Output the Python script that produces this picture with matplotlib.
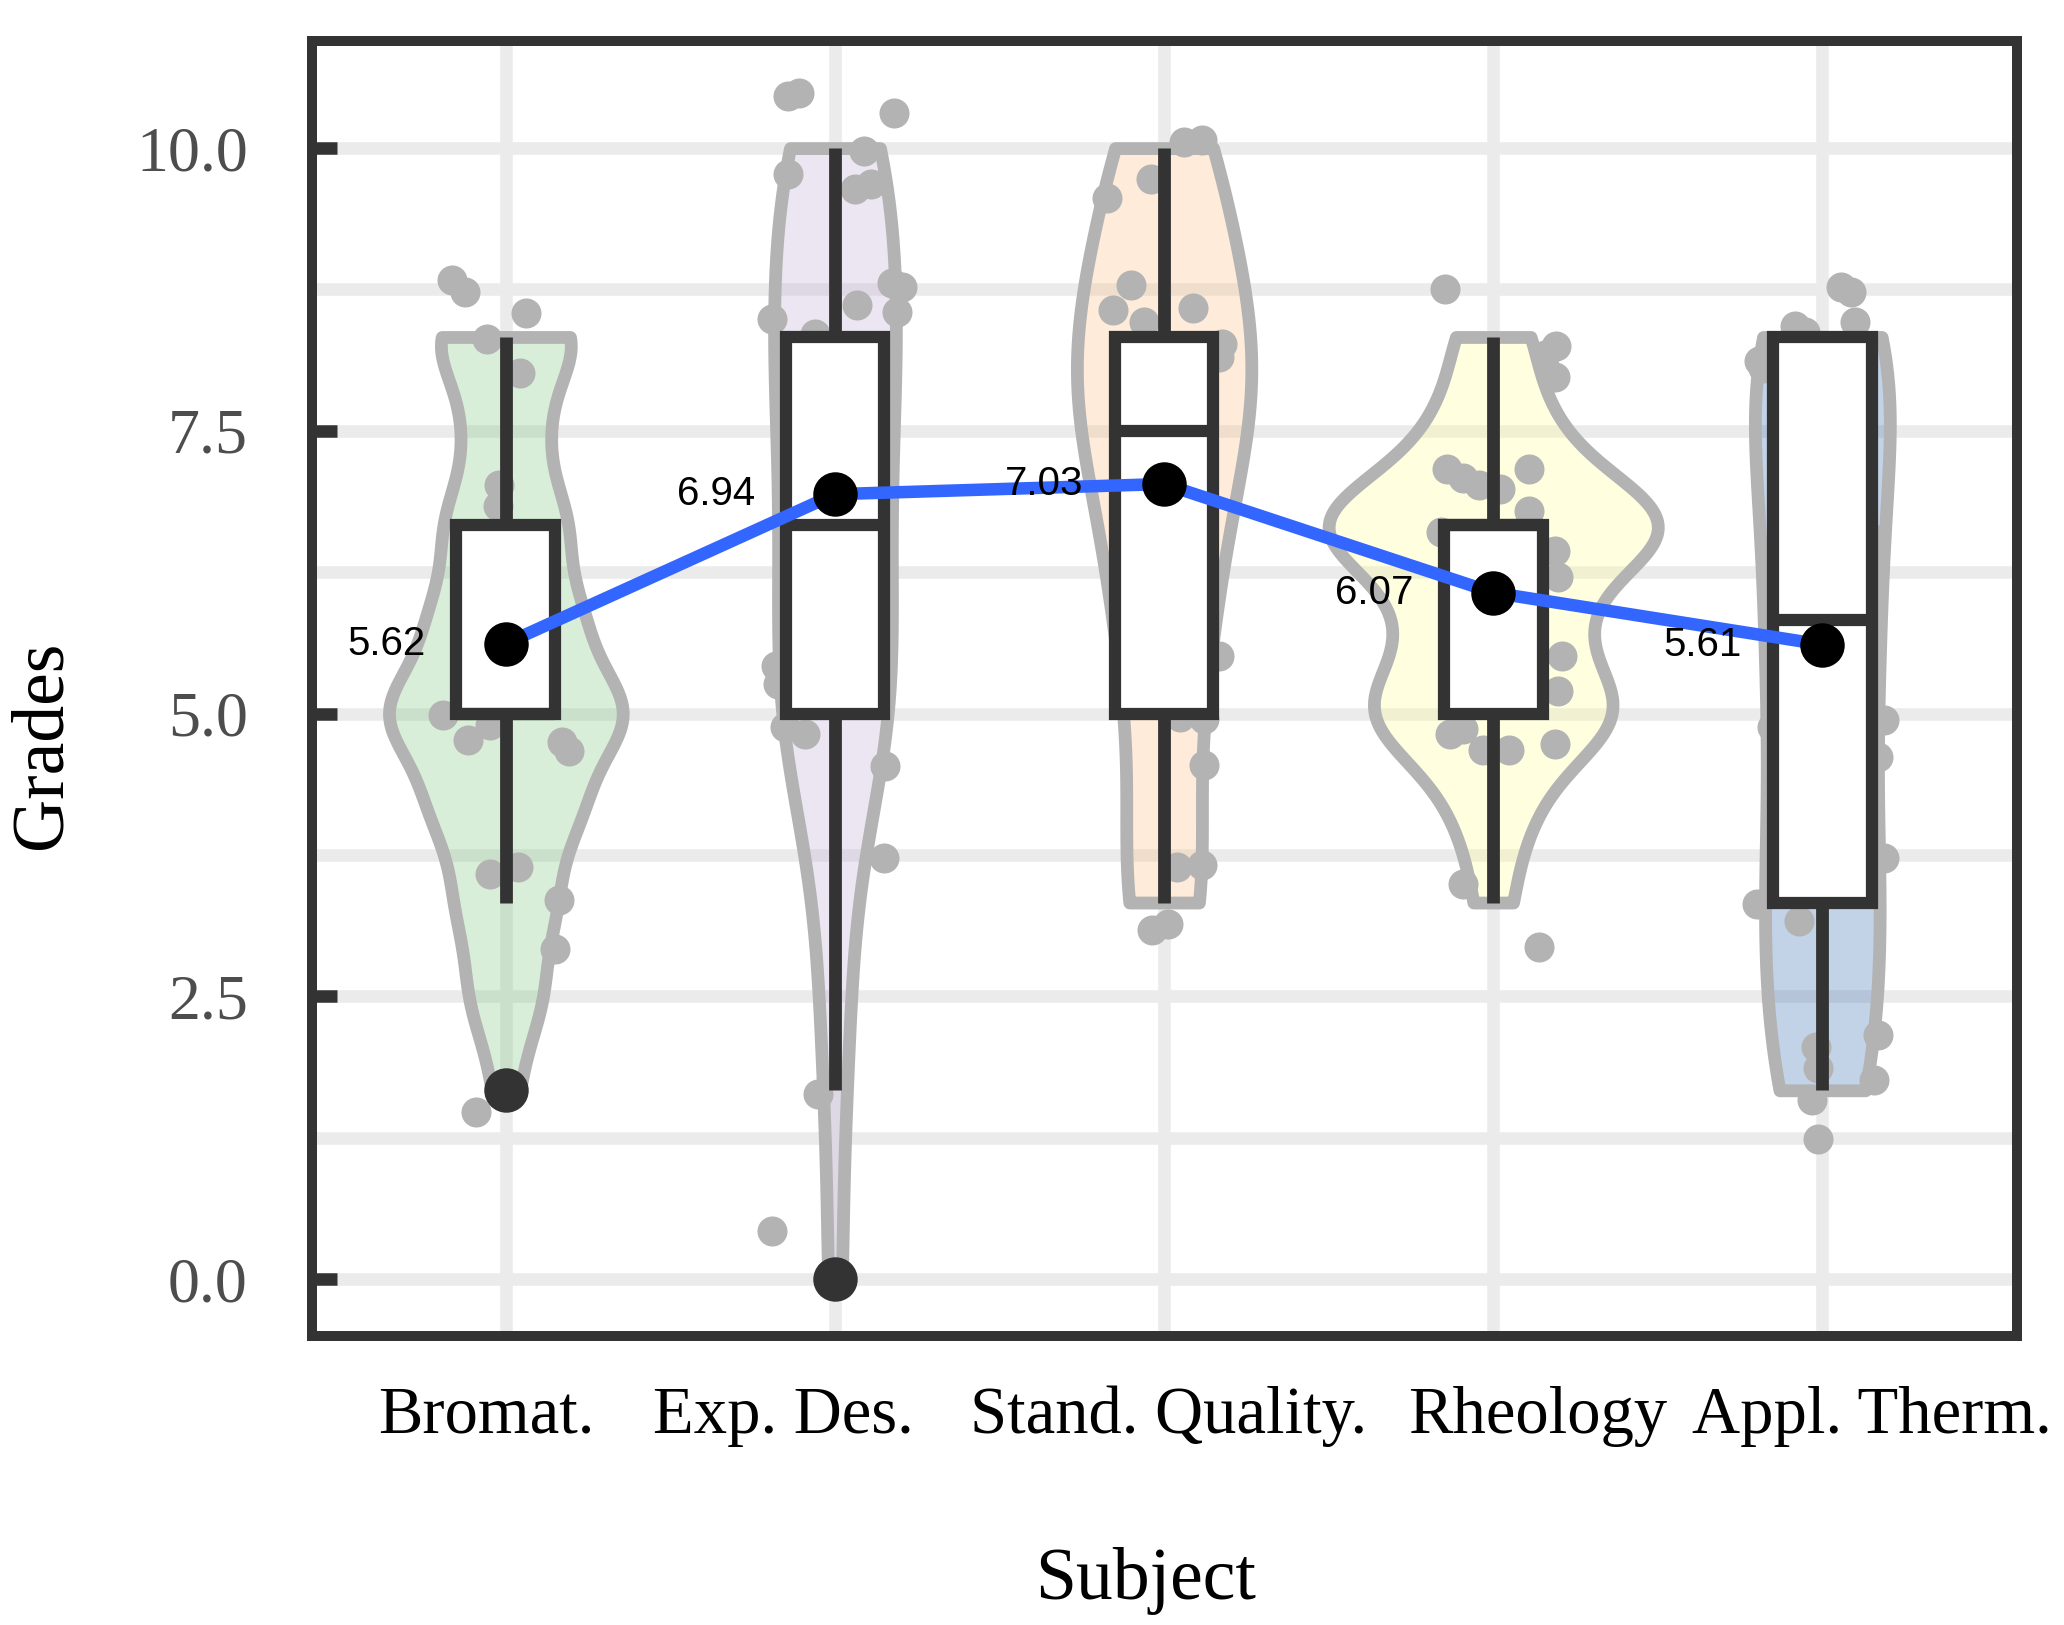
import numpy as np
import matplotlib
matplotlib.use('Agg')
import matplotlib.pyplot as plt
import matplotlib.transforms as mtransforms
from matplotlib import cbook

subjects = ['Bromat.', 'Exp. Des.', 'Stand. Quality.', 'Rheology', 'Appl. Therm.']

# raw grades per subject (for the violins)
grades_bromat = [1.67, 2.5, 2.5, 2.5, 3.33, 3.33, 3.33, 3.33, 4.17, 4.17, 4.17, 4.17, 4.17, 4.17,
                 5.0, 5.0, 5.0, 5.0, 5.0, 5.0, 5.0, 5.0, 5.0, 5.0, 5.83, 5.83, 5.83, 5.83, 5.83,
                 5.83, 6.67, 6.67, 6.67, 6.67, 6.67, 7.5, 7.5, 7.5, 8.33, 8.33, 8.33, 8.33, 8.33, 8.33]
grades_expdes = [0.0, 1.67, 2.5, 3.33, 4.17, 4.17, 5.0, 5.0, 5.0, 5.0, 5.0, 5.83, 5.83, 5.83,
                 6.67, 6.67, 6.67, 6.67, 7.5, 7.5, 7.5, 8.33, 8.33, 8.33, 8.33, 8.33,
                 9.17, 9.17, 9.17, 10.0, 10.0, 10.0, 10.0, 10.0]
grades_stand = [3.33, 3.33, 3.33, 3.33, 4.17, 5.0, 5.0, 5.83, 5.83, 5.83, 6.67, 6.67, 6.67,
                7.5, 7.5, 7.5, 7.5, 7.5, 8.33, 8.33, 8.33, 8.33, 8.33, 8.33, 9.17, 9.17, 9.17,
                10.0, 10.0, 10.0, 10.0]
grades_rheo = [3.33, 4.17, 4.17, 5.0, 5.0, 5.0, 5.0, 5.0, 5.0, 5.0, 5.83, 5.83, 5.83, 5.83,
               6.67, 6.67, 6.67, 6.67, 6.67, 6.67, 6.67, 6.67, 6.67, 6.67, 7.5, 7.5, 7.5,
               8.33, 8.33]
grades_appl = [1.67, 1.67, 1.67, 1.67, 2.5, 2.5, 3.33, 3.33, 3.33, 3.33, 4.17, 4.17, 5.0, 5.0,
               5.0, 5.83, 5.83, 5.83, 6.67, 6.67, 6.67, 7.5, 7.5, 7.5, 8.33, 8.33, 8.33, 8.33,
               8.33, 8.33]
grades = [grades_bromat, grades_expdes, grades_stand, grades_rheo, grades_appl]
bandwidths = [0.42, 0.95, 0.9, 0.45, 1.0]
violin_widths = [0.71, 0.37, 0.53, 1.0, 0.41]

# box statistics
q1 = [5.0, 5.0, 5.0, 5.0, 3.33]
med = [5.0, 6.67, 7.5, 6.67, 5.83]
q3 = [6.67, 8.33, 8.33, 6.67, 8.33]
whislo = [3.33, 1.67, 3.33, 3.33, 1.67]
whishi = [8.33, 10.0, 10.0, 8.33, 8.33]
fliers = [[1.67], [0.0], [], [], []]

means = [5.62, 6.94, 7.03, 6.07, 5.61]

# jittered points (offset from category centre, grade)
jit_dx = [
    [-0.164, -0.124, 0.06, -0.056, 0.044, -0.02, -0.024, -0.192, -0.116, -0.048, 0.172, 0.192,
     -0.048, 0.036, 0.16, 0.148, -0.092],
    [-0.144, -0.108, 0.18, -0.144, 0.088, 0.108, 0.06, 0.172, 0.204, -0.192, 0.068, 0.188,
     -0.06, -0.18, -0.172, -0.152, -0.092, 0.152, 0.148, -0.052, -0.192],
    [-0.172, -0.04, 0.06, 0.116, -0.1, -0.156, 0.088, -0.06, 0.168, 0.176, 0.168, 0.048, 0.12,
     0.12, 0.04, 0.116, -0.036, 0.012],
    [-0.148, 0.192, 0.156, 0.188, -0.14, -0.092, -0.044, 0.108, 0.02, -0.16, 0.108, 0.188, 0.196,
     0.208, 0.196, -0.132, -0.092, -0.032, 0.048, 0.188, -0.092, 0.14],
    [-0.084, -0.052, 0.056, 0.088, 0.1, -0.192, -0.18, 0.148, -0.152, 0.188, 0.168, 0.188, -0.2,
     -0.072, -0.02, -0.012, 0.168, 0.156, -0.032, -0.012],
]
jit_y = [
    [8.83, 8.73, 8.54, 8.31, 8.01, 7.02, 6.84, 4.99, 4.77, 4.90, 4.75, 4.67, 3.58, 3.64, 3.35,
     2.92, 1.48],
    [10.46, 10.49, 10.31, 9.77, 9.97, 9.68, 9.64, 8.81, 8.77, 8.49, 8.61, 8.55, 8.36, 5.42, 5.26,
     4.88, 4.82, 4.54, 3.72, 1.64, 0.43],
    [9.56, 9.73, 10.05, 10.07, 8.79, 8.57, 8.59, 8.46, 8.15, 8.27, 5.51, 4.97, 4.95, 4.55, 3.64,
     3.66, 3.09, 3.14],
    [8.75, 8.25, 8.17, 7.98, 7.16, 7.08, 7.02, 7.16, 6.99, 6.61, 6.79, 6.44, 6.21, 5.51, 5.2,
     4.82, 4.86, 4.68, 4.68, 4.73, 3.49, 2.94],
    [8.43, 8.37, 8.77, 8.73, 8.46, 8.12, 8.06, 6.55, 4.88, 4.94, 4.62, 3.72, 3.32, 3.17, 2.05,
     1.87, 2.16, 1.76, 1.58, 1.24],
]

# Accent palette, drawn at alpha 0.3
fills = ['#7FC97F', '#BEAED4', '#FDC086', '#FFFF99', '#386CB0']
label_shift = [-0.10, -0.26, 0.02, 0.22, 0.25]  # inches


def make_kde(bw):
    def kde(x, coords):
        x = np.asarray(x, float)
        z = (coords[:, None] - x[None, :]) / bw
        return np.exp(-0.5 * z ** 2).sum(axis=1) / (len(x) * bw * np.sqrt(2 * np.pi))
    return kde


fig = plt.figure(figsize=(10.32, 8.125), dpi=200)
ax = fig.add_axes([0.151, 0.178, 0.826, 0.797])
pos = np.arange(len(subjects))

# violins
for i in range(len(subjects)):
    vstats = cbook.violin_stats([grades[i]], make_kde(bandwidths[i]), points=300)
    vp = ax.violin(vstats, positions=[i], widths=[violin_widths[i]], showmeans=False,
                   showextrema=False, showmedians=False)
    body = vp['bodies'][0]
    body.set_alpha(None)
    body.set_facecolor(matplotlib.colors.to_rgba(fills[i], 0.3))
    body.set_edgecolor('#B3B3B3')
    body.set_linewidth(4.6)
    body.set_zorder(1)

# jittered grades
for i in range(len(subjects)):
    ax.scatter(i + np.array(jit_dx[i]), jit_y[i], s=117, color='#B3B3B3',
               linewidths=0, zorder=2)

# boxes
bstats = []
for i in range(len(subjects)):
    bstats.append(dict(q1=q1[i], med=med[i], q3=q3[i], whislo=whislo[i],
                       whishi=whishi[i], fliers=fliers[i]))
ax.bxp(bstats, positions=pos, widths=0.3, showcaps=False, patch_artist=True,
       boxprops=dict(facecolor='white', edgecolor='#333333', linewidth=4.4),
       whiskerprops=dict(color='#333333', linewidth=4.6, solid_capstyle='butt'),
       medianprops=dict(color='#333333', linewidth=4.4),
       flierprops=dict(marker='o', markerfacecolor='#333333', markeredgecolor='#333333',
                       markersize=15),
       zorder=3)

# mean line and labels
ax.plot(pos, means, color='#3366FF', linewidth=4.5, zorder=4)
ax.plot(pos, means, 'o', color='black', markersize=15, zorder=5)
for i, m in enumerate(means):
    ax.text(i - 0.244, m, f'{m:.2f}', ha='right', va='center', fontsize=14.5,
            family='Liberation Sans', color='black', zorder=6)

ax.set_xlim(-0.59, 4.59)
ax.set_ylim(-0.5, 10.95)
ax.set_yticks([0, 2.5, 5, 7.5, 10], ['0.0', '2.5', '5.0', '7.5', '10.0'])
ax.set_yticks([1.25, 3.75, 6.25, 8.75], minor=True)
ax.set_xticks(pos, subjects)

ax.set_axisbelow(True)
ax.grid(which='major', color='#EBEBEB', linewidth=4.5)
ax.grid(which='minor', axis='y', color='#EBEBEB', linewidth=4.5)

ax.tick_params(axis='y', which='major', direction='in', length=9, width=4.5,
               color='#333333', labelcolor='#4D4D4D', labelsize=23, pad=23)
ax.tick_params(axis='y', which='minor', length=0)
ax.tick_params(axis='x', length=0, labelsize=24, labelcolor='black', pad=18)
for lab in ax.get_yticklabels() + ax.get_xticklabels():
    lab.set_family('Liberation Serif')
for lab, sh in zip(ax.get_xticklabels(), label_shift):
    lab.set_transform(lab.get_transform() + mtransforms.ScaledTranslation(sh, 0, fig.dpi_scale_trans))

for sp in ax.spines.values():
    sp.set_linewidth(3.6)
    sp.set_color('#333333')
    sp.set_zorder(10)

ax.set_xlabel('Subject', fontsize=26.5, family='Liberation Serif', va='center')
ax.set_ylabel('Grades', fontsize=26.5, family='Liberation Serif', va='center', ha='center')
ax.xaxis.set_label_coords(0.489, -0.189)
ax.yaxis.set_label_coords(-0.158, 0.456)

fig.savefig('out.png', dpi=200, facecolor='white')
